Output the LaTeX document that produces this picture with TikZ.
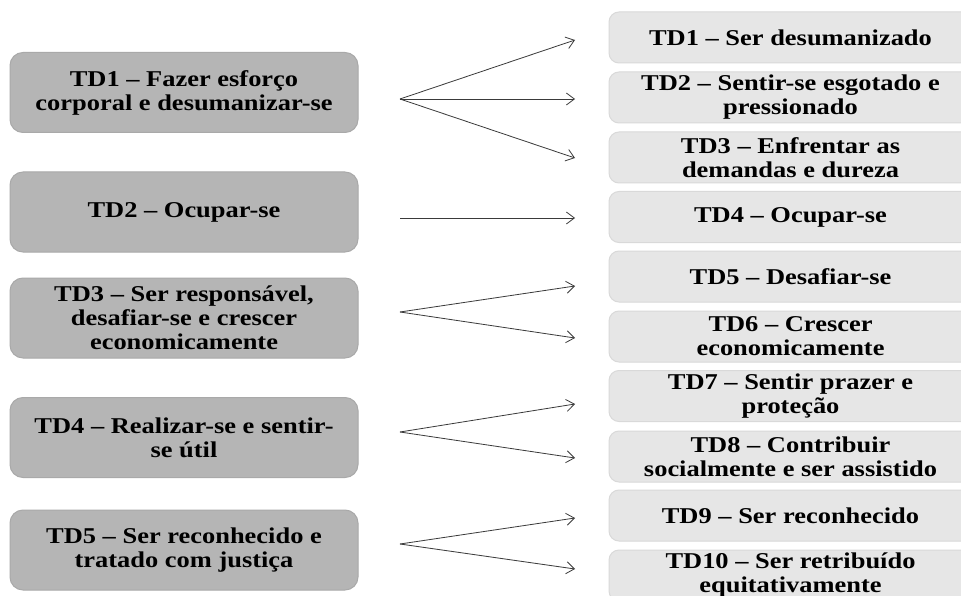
\documentclass[tikz,border=0pt]{standalone}
\usepackage{fontspec}
\setmainfont{Liberation Serif}[FakeStretch=1.17]
\usetikzlibrary{arrows.meta}
\definecolor{lbox}{HTML}{B5B5B5}
\definecolor{lbord}{HTML}{A9A9A9}
\definecolor{rbox}{HTML}{E6E6E6}
\definecolor{rbord}{HTML}{D9D9D9}
\definecolor{arrc}{HTML}{3A3A3A}
\tikzset{
  lnode/.style={draw=lbord, fill=lbox, line width=1pt, rounded corners=13pt,
    minimum width=348pt, minimum height=80pt, inner sep=0pt, align=center,
    font=\fontsize{22.6}{24}\selectfont\bfseries},
  rnode/.style={draw=rbord, fill=rbox, line width=1pt, rounded corners=10pt,
    minimum width=363pt, minimum height=51pt, inner sep=0pt, align=center,
    font=\fontsize{22.6}{24}\selectfont\bfseries},
  arr/.style={draw=arrc, line width=0.8pt, -{Straight Barb[length=8pt,width=12pt]}}
}
\begin{document}
\begin{tikzpicture}[x=1pt,y=-1pt]
\clip (0,0) rectangle (961,596);
\fill[white] (0,0) rectangle (961,596);
% left boxes
\node[lnode] (L1) at (184,92.5) {TD1 – Fazer esforço\\corporal e desumanizar-se};
\node[lnode] (L2) at (184,212) {TD2 – Ocupar-se};
\node[lnode] (L3) at (184,318) {TD3 – Ser responsável,\\desafiar-se e crescer\\economicamente};
\node[lnode] (L4) at (184,437.5) {TD4 – Realizar-se e sentir-\\se útil};
\node[lnode] (L5) at (184,550) {TD5 – Ser reconhecido e\\tratado com justiça};
% right boxes
\node[rnode] (R1) at (790.5,37.5) {TD1 – Ser desumanizado};
\node[rnode] (R2) at (790.5,97.5) {TD2 – Sentir-se esgotado e\\pressionado};
\node[rnode] (R3) at (790.5,157.5) {TD3 – Enfrentar as\\demandas e dureza};
\node[rnode] (R4) at (790.5,217) {TD4 – Ocupar-se};
\node[rnode] (R5) at (790.5,276.5) {TD5 – Desafiar-se};
\node[rnode] (R6) at (790.5,336.5) {TD6 – Crescer\\economicamente};
\node[rnode] (R7) at (790.5,396) {TD7 – Sentir prazer e\\proteção};
\node[rnode] (R8) at (790.5,456.5) {TD8 – Contribuir\\socialmente e ser assistido};
\node[rnode] (R9) at (790.5,515.5) {TD9 – Ser reconhecido};
\node[rnode] (R10) at (790.5,575.5) {TD10 – Ser retribuído\\equitativamente};
% fan origins and tips
\coordinate (s1) at (400,99);
\coordinate (s2) at (400,218);
\coordinate (s3) at (400,312);
\coordinate (s4) at (400,432);
\coordinate (s5) at (400,544);
\coordinate (t1) at (575,40);
\coordinate (t2) at (575,99);
\coordinate (t3) at (575,158);
\coordinate (t4) at (575,218);
\coordinate (t5) at (575,286);
\coordinate (t6) at (575,338);
\coordinate (t7) at (575,404);
\coordinate (t8) at (575,458);
\coordinate (t9) at (575,518);
\coordinate (t10) at (575,569);
\draw[arr] (s1) -- (t1);
\draw[arr] (s1) -- (t2);
\draw[arr] (s1) -- (t3);
\draw[arr] (s2) -- (t4);
\draw[arr] (s3) -- (t5);
\draw[arr] (s3) -- (t6);
\draw[arr] (s4) -- (t7);
\draw[arr] (s4) -- (t8);
\draw[arr] (s5) -- (t9);
\draw[arr] (s5) -- (t10);
\end{tikzpicture}
\end{document}
